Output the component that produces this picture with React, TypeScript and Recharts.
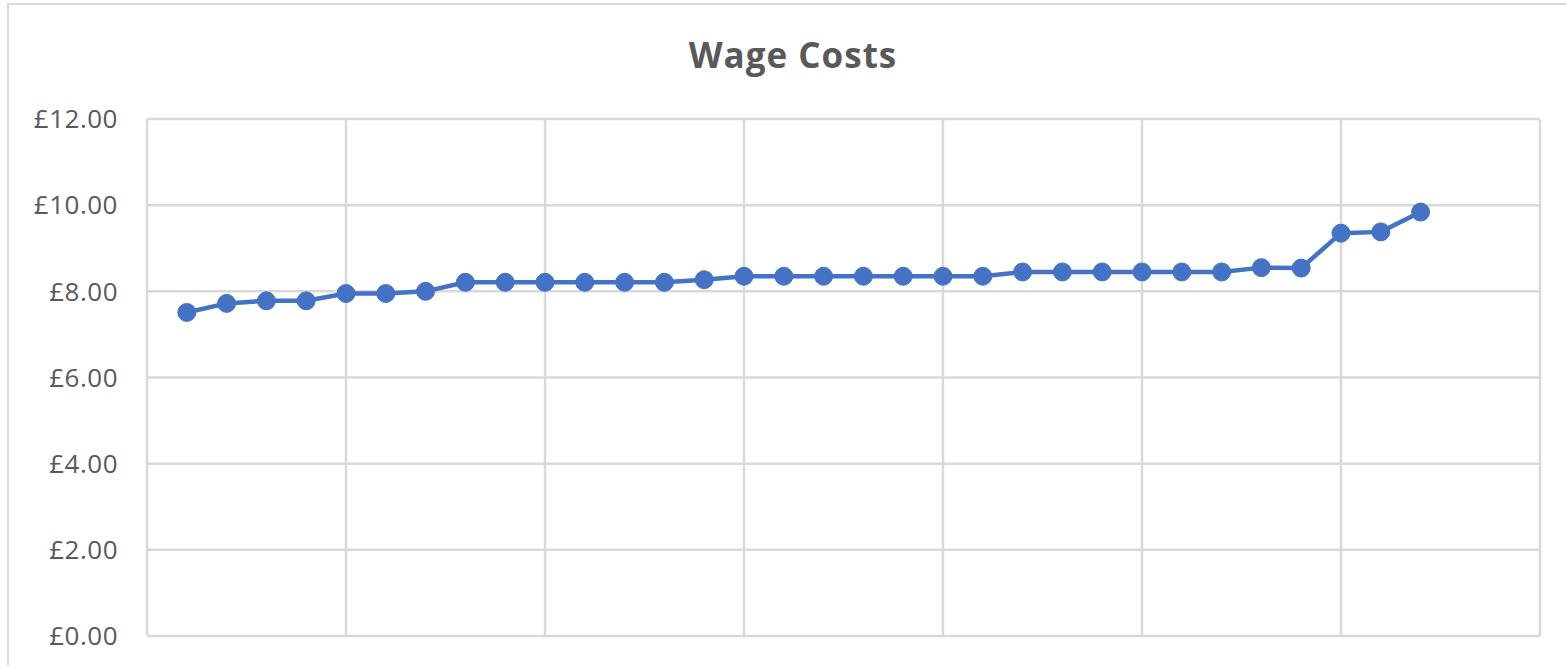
import React from 'react';
import { LineChart, Line, XAxis, YAxis, CartesianGrid } from 'recharts';

// week number and hourly wage
const weeks = [
  1, 2, 3, 4, 5, 6, 7, 8, 9, 10, 11, 12, 13, 14, 15, 16,
  17, 18, 19, 20, 21, 22, 23, 24, 25, 26, 27, 28, 29, 30, 31, 32,
];
const wages = [
  7.51, 7.72, 7.78, 7.78, 7.95, 7.95, 8.0, 8.21, 8.21, 8.21, 8.21, 8.21, 8.21, 8.27, 8.35, 8.35,
  8.35, 8.35, 8.35, 8.35, 8.35, 8.45, 8.45, 8.45, 8.45, 8.45, 8.45, 8.55, 8.54, 9.35, 9.38, 9.84,
];
const xTicks = [0, 5, 10, 15, 20, 25, 30, 35];
const yTicks = [0, 2, 4, 6, 8, 10, 12];

const data = weeks.map((w, i) => ({ week: w, wage: wages[i] }));

const App: React.FC = () => {
  return (
    <div style={{ position: 'absolute', left: 0, top: 0, width: 1566, height: 665, background: '#fff', overflow: 'hidden' }}>
      {/* chart frame */}
      <div
        style={{
          position: 'absolute',
          left: 7,
          top: 3,
          width: 1600,
          height: 700,
          borderLeft: '2px solid #d9d9d9',
          borderTop: '2px solid #d9d9d9',
        }}
      />
      <div
        style={{
          position: 'absolute',
          left: 593,
          top: 31,
          width: 400,
          textAlign: 'center',
          fontFamily: '"Open Sans", sans-serif',
          fontWeight: 700,
          fontSize: 35,
          color: '#595959',
          letterSpacing: 1,
          lineHeight: '48px',
        }}
      >
        Wage Costs
      </div>
      <div style={{ position: 'absolute', left: 0, top: 0 }}>
        <LineChart width={1566} height={665} data={data} margin={{ top: 119, right: 26, bottom: 29, left: 0 }}>
          <CartesianGrid stroke="#d9d9d9" strokeWidth={2.5} />
          <XAxis
            dataKey="week"
            type="number"
            domain={[0, 35]}
            ticks={xTicks}
            tick={() => <g />}
            axisLine={false}
            tickLine={false}
            height={0}
          />
          <YAxis
            type="number"
            domain={[0, 12]}
            ticks={yTicks}
            width={147}
            axisLine={false}
            tickLine={false}
            tickMargin={23}
            tickFormatter={(v: number) => `£${v.toFixed(2)}`}
            tick={{ fill: '#595959', fontSize: 26, fontFamily: '"Open Sans", sans-serif', letterSpacing: 0.5 }}
          />
          <Line
            dataKey="wage"
            stroke="#4472C4"
            strokeWidth={4.5}
            dot={{ r: 9, fill: '#4472C4', stroke: '#4472C4', strokeWidth: 1 }}
            isAnimationActive={false}
          />
        </LineChart>
      </div>
    </div>
  );
};

export default App;
